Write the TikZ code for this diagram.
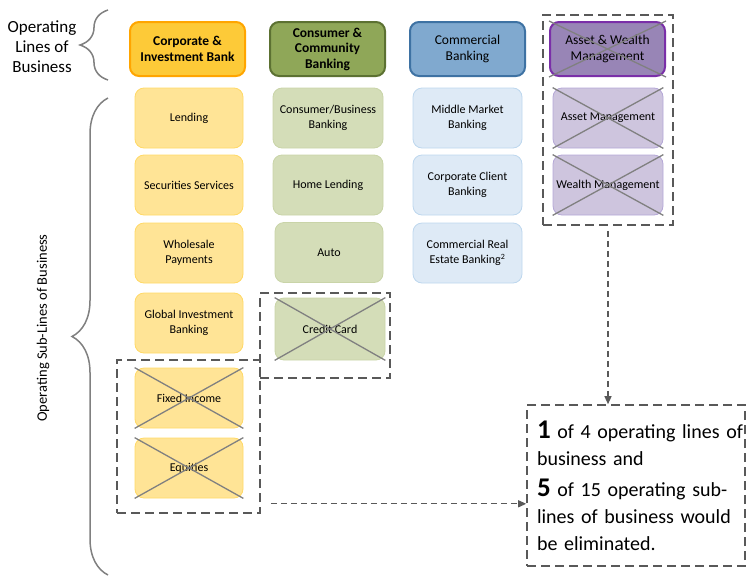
\documentclass[tikz,border=0pt]{standalone}
\usepackage{fontspec}
\setmainfont{Carlito}
\usetikzlibrary{decorations.pathreplacing,arrows.meta}

\definecolor{cibFill}{RGB}{253,202,56}
\definecolor{cibLine}{RGB}{255,165,0}
\definecolor{ccbFill}{RGB}{143,167,88}
\definecolor{ccbLine}{RGB}{92,113,50}
\definecolor{cbFill}{RGB}{128,169,207}
\definecolor{cbLine}{RGB}{62,114,163}
\definecolor{awmFill}{RGB}{152,133,182}
\definecolor{awmLine}{RGB}{122,47,168}
\definecolor{cibSub}{RGB}{255,228,150}
\definecolor{cibSubLine}{RGB}{255,217,102}
\definecolor{ccbSub}{RGB}{212,221,184}
\definecolor{ccbSubLine}{RGB}{201,212,168}
\definecolor{cbSub}{RGB}{222,234,246}
\definecolor{cbSubLine}{RGB}{189,215,238}
\definecolor{awmSub}{RGB}{206,197,222}
\definecolor{awmSubLine}{RGB}{180,167,214}
\definecolor{crossGray}{RGB}{128,128,128}
\definecolor{dashGray}{RGB}{89,89,89}

\begin{document}
\begin{tikzpicture}[x=1pt,y=-1pt,
  head/.style={draw,line width=2pt,rounded corners=9pt,minimum width=115pt,minimum height=54pt,align=center,font=\fontsize{13.5}{15.5}\selectfont},
  sub/.style={draw,line width=0.8pt,rounded corners=9pt,minimum width=108pt,minimum height=60pt,align=center,font=\fontsize{12}{15.5}\selectfont},
  group/.style={draw=dashGray,line width=1.6pt,dash pattern=on 9pt off 5pt},
  flow/.style={draw=dashGray,line width=1.2pt,dash pattern=on 6pt off 4pt,-{Triangle[length=8pt,width=7pt]}},
  xline/.style={draw=crossGray,line width=1.3pt},
  bracket/.style={draw=crossGray,line width=1.5pt,decorate}]
  \useasboundingbox (0,0) rectangle (749,576);
  % Lines of business
  \node[head,fill=cibFill,draw=cibLine,font=\bfseries\fontsize{13.5}{15.5}\selectfont] (cib) at (187.5,49) {Corporate \&\\Investment Bank};
  \node[head,fill=ccbFill,draw=ccbLine,font=\bfseries\fontsize{13.5}{15.5}\selectfont] (ccb) at (327.5,49) {Consumer \&\\Community\\Banking};
  \node[head,fill=cbFill,draw=cbLine] (cb) at (467.5,49) {Commercial\\Banking};
  \node[head,fill=awmFill,draw=awmLine] (awm) at (607.5,49) {Asset \& Wealth\\Management};
  % Sub-lines
  \node[sub,fill=cibSub,draw=cibSubLine] (lend) at (189,118) {Lending};
  \node[sub,fill=cibSub,draw=cibSubLine] (sec) at (189,185) {Securities Services};
  \node[sub,fill=cibSub,draw=cibSubLine] (wpay) at (189,253) {Wholesale\\Payments};
  \node[sub,fill=cibSub,draw=cibSubLine] (gib) at (189,323) {Global Investment\\Banking};
  \node[sub,fill=cibSub,draw=cibSubLine] (fi) at (189,398) {Fixed Income};
  \node[sub,fill=cibSub,draw=cibSubLine] (eq) at (189,468) {Equities};
  \node[sub,fill=ccbSub,draw=ccbSubLine,minimum width=110pt] (cbb) at (328,118) {Consumer/Business\\Banking};
  \node[sub,fill=ccbSub,draw=ccbSubLine,minimum width=110pt] (home) at (328,185) {Home Lending};
  \node[sub,fill=ccbSub,draw=ccbSubLine] (auto) at (329,252.5) {Auto};
  \node[sub,fill=ccbSub,draw=ccbSubLine,minimum width=110pt,minimum height=62pt] (card) at (330,329) {Credit Card};
  \node[sub,fill=cbSub,draw=cbSubLine,minimum width=109pt] (mmb) at (467.5,118) {Middle Market\\Banking};
  \node[sub,fill=cbSub,draw=cbSubLine,minimum width=109pt] (ccl) at (467.5,185) {Corporate Client\\Banking};
  \node[sub,fill=cbSub,draw=cbSubLine,minimum width=109pt] (cre) at (467.5,253) {Commercial Real\\Estate Banking\textsuperscript{2}};
  \node[sub,fill=awmSub,draw=awmSubLine,minimum width=110pt] (am) at (608,118) {Asset Management};
  \node[sub,fill=awmSub,draw=awmSubLine,minimum width=110pt] (wm) at (608,185) {Wealth Management};
  % Crossed out
  \foreach \n in {awm,am,wm,card,fi,eq}
    \draw[xline] (\n.north west) -- (\n.south east) (\n.north east) -- (\n.south west);
  % Groups
  \node[group,minimum width=130pt,minimum height=210pt] (awmgrp) at (608,120) {};
  \node[group,minimum width=130pt,minimum height=85pt] (cardgrp) at (325,335.5) {};
  \node[group,minimum width=143pt,minimum height=153pt] (figrp) at (188.5,436.5) {};
  \node[group,minimum width=218pt,minimum height=161pt,text width=198pt,inner xsep=10pt,align=left,
    font=\fontsize{20}{27}\selectfont] (result) at (636,485.5)
    {\mbox{{\bfseries\fontsize{27}{27}\selectfont 1} of 4 operating lines of}\\
     business and\\[4pt]
     \mbox{{\bfseries\fontsize{27}{27}\selectfont 5} of 15 operating sub-}\\
     lines of business would\\
     be eliminated.};
  % Arrows
  \draw[flow] ([yshift=-5pt]awmgrp.south) -- (awmgrp.south |- result.north);
  \coordinate (fitail) at ([shift={(10,-10)}]figrp.south east);
  \draw[flow] (fitail) -- (fitail -| result.west);
  % Braces
  \draw[bracket,decoration={brace,amplitude=28pt}] (108,80) -- (108,10);
  \draw[bracket,decoration={brace,amplitude=36pt}] (108,575) -- (108,98);
  \node[align=center,font=\fontsize{17}{20}\selectfont] (lob) at (42,47) {Operating\\Lines of\\Business};
  \node[rotate=90,font=\fontsize{14.5}{16}\selectfont] (sublob) at (43,328) {Operating Sub-Lines of Business};
\end{tikzpicture}
\end{document}
